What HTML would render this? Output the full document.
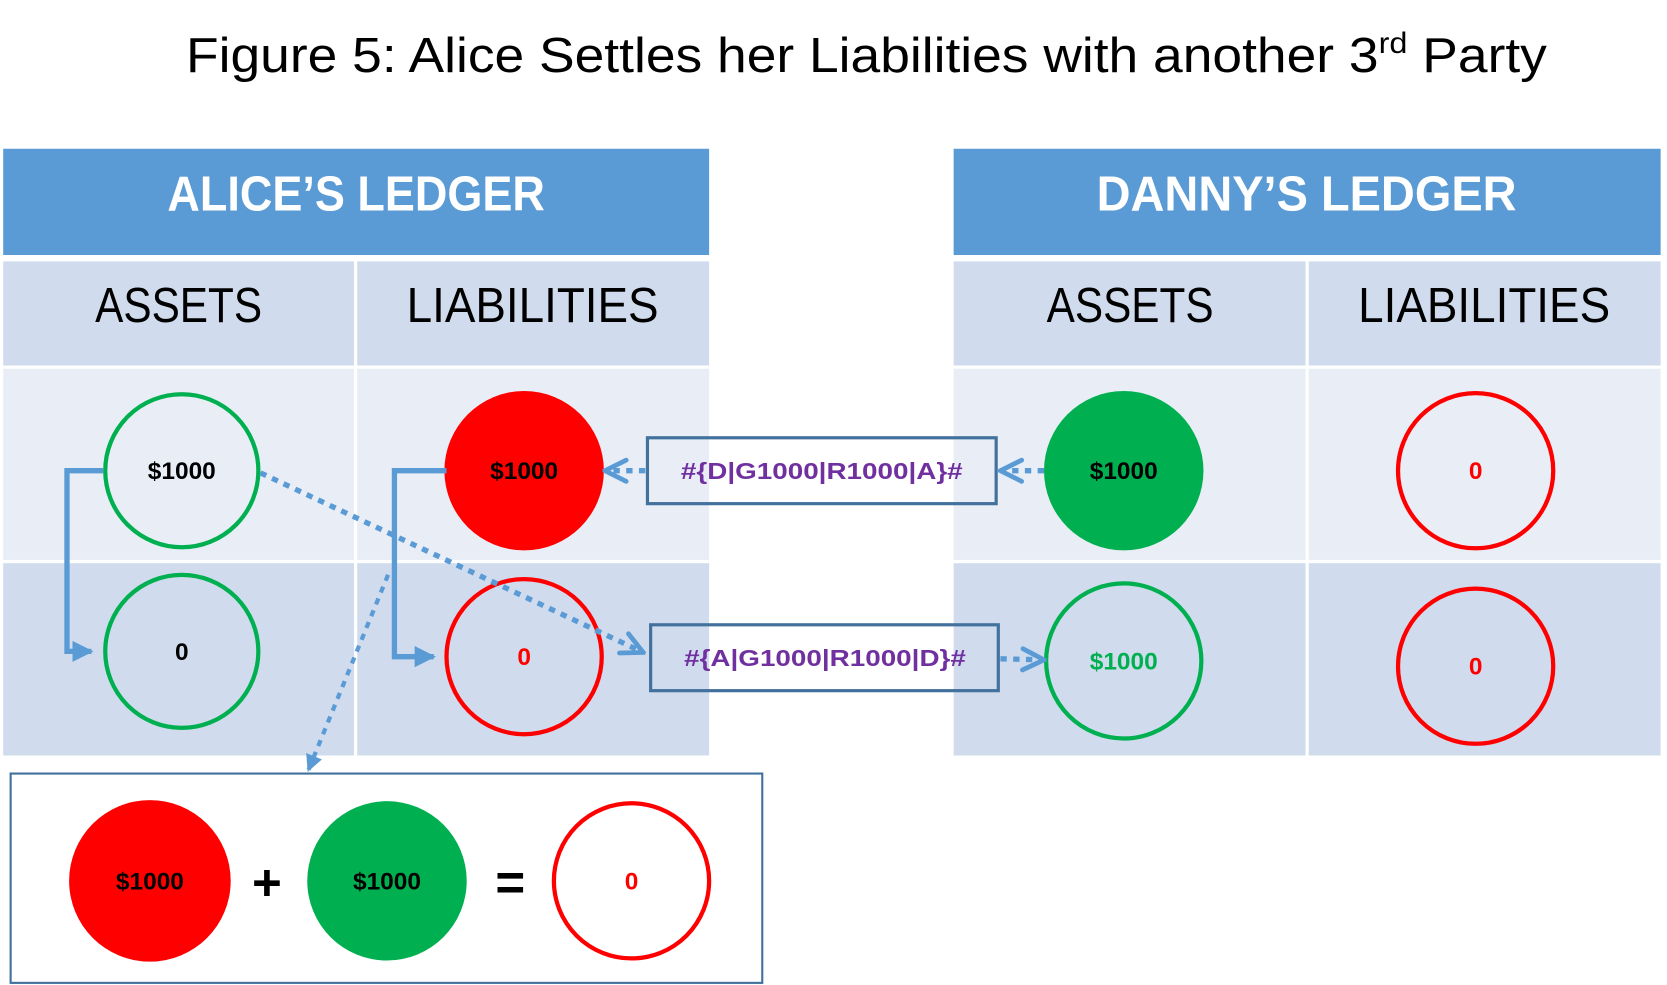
<!DOCTYPE html>
<html><head><meta charset="utf-8"><style>
html,body{margin:0;padding:0;background:#fff;}
svg{display:block;}
text{font-family:"Liberation Sans",sans-serif;}
</style></head><body>
<svg width="1667" height="985" viewBox="0 0 1568 927" preserveAspectRatio="none" xmlns="http://www.w3.org/2000/svg">
<defs>
<marker id="chev" viewBox="0 0 10 10" refX="9" refY="5" markerWidth="5" markerHeight="5" orient="auto" markerUnits="strokeWidth">
<path d="M1,1 L9,5 L1,9" fill="none" stroke="#5b9bd5" stroke-width="1.8" stroke-linecap="round"/>
</marker>
<marker id="tri" viewBox="0 0 10 10" refX="9" refY="5" markerWidth="4" markerHeight="4" orient="auto" markerUnits="strokeWidth">
<path d="M0,0 L10,5 L0,10 Z" fill="#5b9bd5"/>
</marker>
</defs>
<text x="815" y="68" font-size="46" text-anchor="middle" textLength="1280" lengthAdjust="spacingAndGlyphs">Figure 5: Alice Settles her Liabilities with another 3<tspan font-size="28" dy="-18">rd</tspan><tspan dy="18"> Party</tspan></text>

<rect x="3" y="140" width="664" height="100" fill="#5b9bd5"/>
<text x="335" y="198" font-size="46" font-weight="bold" fill="#fff" text-anchor="middle" textLength="355" lengthAdjust="spacingAndGlyphs">ALICE’S LEDGER</text>
<rect x="3" y="246" width="330" height="98" fill="#d0dcee"/>
<rect x="336" y="246" width="331" height="98" fill="#d0dcee"/>
<text x="168" y="303" font-size="46" text-anchor="middle" textLength="157" lengthAdjust="spacingAndGlyphs">ASSETS</text>
<text x="501" y="303" font-size="46" text-anchor="middle" textLength="237" lengthAdjust="spacingAndGlyphs">LIABILITIES</text>
<rect x="3" y="347" width="330" height="180" fill="#e9eef6"/>
<rect x="336" y="347" width="331" height="180" fill="#e9eef6"/>
<rect x="3" y="530" width="330" height="181" fill="#d0dcee"/>
<rect x="336" y="530" width="331" height="181" fill="#d0dcee"/>

<rect x="897" y="140" width="665" height="100" fill="#5b9bd5"/>
<text x="1229" y="198" font-size="46" font-weight="bold" fill="#fff" text-anchor="middle" textLength="395" lengthAdjust="spacingAndGlyphs">DANNY’S LEDGER</text>
<rect x="897" y="246" width="331" height="98" fill="#d0dcee"/>
<rect x="1231" y="246" width="331" height="98" fill="#d0dcee"/>
<text x="1063" y="303" font-size="46" text-anchor="middle" textLength="157" lengthAdjust="spacingAndGlyphs">ASSETS</text>
<text x="1396" y="303" font-size="46" text-anchor="middle" textLength="237" lengthAdjust="spacingAndGlyphs">LIABILITIES</text>
<rect x="897" y="347" width="331" height="180" fill="#e9eef6"/>
<rect x="1231" y="347" width="331" height="180" fill="#e9eef6"/>
<rect x="897" y="530" width="331" height="181" fill="#d0dcee"/>
<rect x="1231" y="530" width="331" height="181" fill="#d0dcee"/>

<g font-size="23" font-weight="bold" text-anchor="middle">
<circle cx="171" cy="443" r="72" fill="none" stroke="#00b050" stroke-width="4"/>
<text x="171" y="451">$1000</text>
<circle cx="171" cy="613" r="72" fill="none" stroke="#00b050" stroke-width="4"/>
<text x="171" y="621">0</text>
<circle cx="493" cy="443" r="75" fill="#ff0000"/>
<text x="493" y="451">$1000</text>
<circle cx="493" cy="618" r="73" fill="none" stroke="#ff0000" stroke-width="4"/>
<text x="493" y="626" fill="#ff0000">0</text>
<circle cx="1057" cy="443" r="75" fill="#00b050"/>
<text x="1057" y="451">$1000</text>
<circle cx="1057" cy="622" r="73" fill="none" stroke="#00b050" stroke-width="4"/>
<text x="1057" y="630" fill="#00b050">$1000</text>
<circle cx="1388" cy="443" r="73" fill="none" stroke="#ff0000" stroke-width="4"/>
<text x="1388" y="451" fill="#ff0000">0</text>
<circle cx="1388" cy="627" r="73" fill="none" stroke="#ff0000" stroke-width="4"/>
<text x="1388" y="635" fill="#ff0000">0</text>
</g>

<path d="M97,443 H63 V613 H86" fill="none" stroke="#5b9bd5" stroke-width="5" marker-end="url(#tri)"/>
<path d="M420,443 H371 V618 H408" fill="none" stroke="#5b9bd5" stroke-width="5" marker-end="url(#tri)"/>

<g fill="none" stroke="#5b9bd5" stroke-width="5" stroke-dasharray="6,6">
<path d="M245,445 L605,614" marker-end="url(#chev)"/>
<path d="M982,443 L941,443" marker-end="url(#chev)"/>
<path d="M607,443 L569,443" marker-end="url(#chev)"/>
<path d="M941,620 L982,621" marker-end="url(#chev)"/>
<path d="M365,541 L290,725" stroke-width="4" marker-end="url(#tri)"/>
</g>

<rect x="609" y="412" width="328" height="62" fill="none" stroke="#41719c" stroke-width="3"/>
<text x="773" y="451" font-size="22" font-weight="bold" fill="#7030a0" text-anchor="middle" textLength="265" lengthAdjust="spacingAndGlyphs">#{D|G1000|R1000|A}#</text>
<rect x="612" y="588" width="327" height="62" fill="none" stroke="#41719c" stroke-width="3"/>
<text x="776" y="627" font-size="22" font-weight="bold" fill="#7030a0" text-anchor="middle" textLength="265" lengthAdjust="spacingAndGlyphs">#{A|G1000|R1000|D}#</text>

<rect x="10" y="728" width="707" height="197" fill="none" stroke="#41719c" stroke-width="2"/>
<g font-size="23" font-weight="bold" text-anchor="middle">
<circle cx="141" cy="829" r="76" fill="#ff0000"/>
<text x="141" y="837">$1000</text>
<text x="251" y="847" font-size="48">+</text>
<circle cx="364" cy="829" r="75" fill="#00b050"/>
<text x="364" y="837">$1000</text>
<text x="480" y="847" font-size="48">=</text>
<circle cx="594" cy="829" r="73" fill="none" stroke="#ff0000" stroke-width="4"/>
<text x="594" y="837" fill="#ff0000">0</text>
</g>
</svg>
</body></html>
